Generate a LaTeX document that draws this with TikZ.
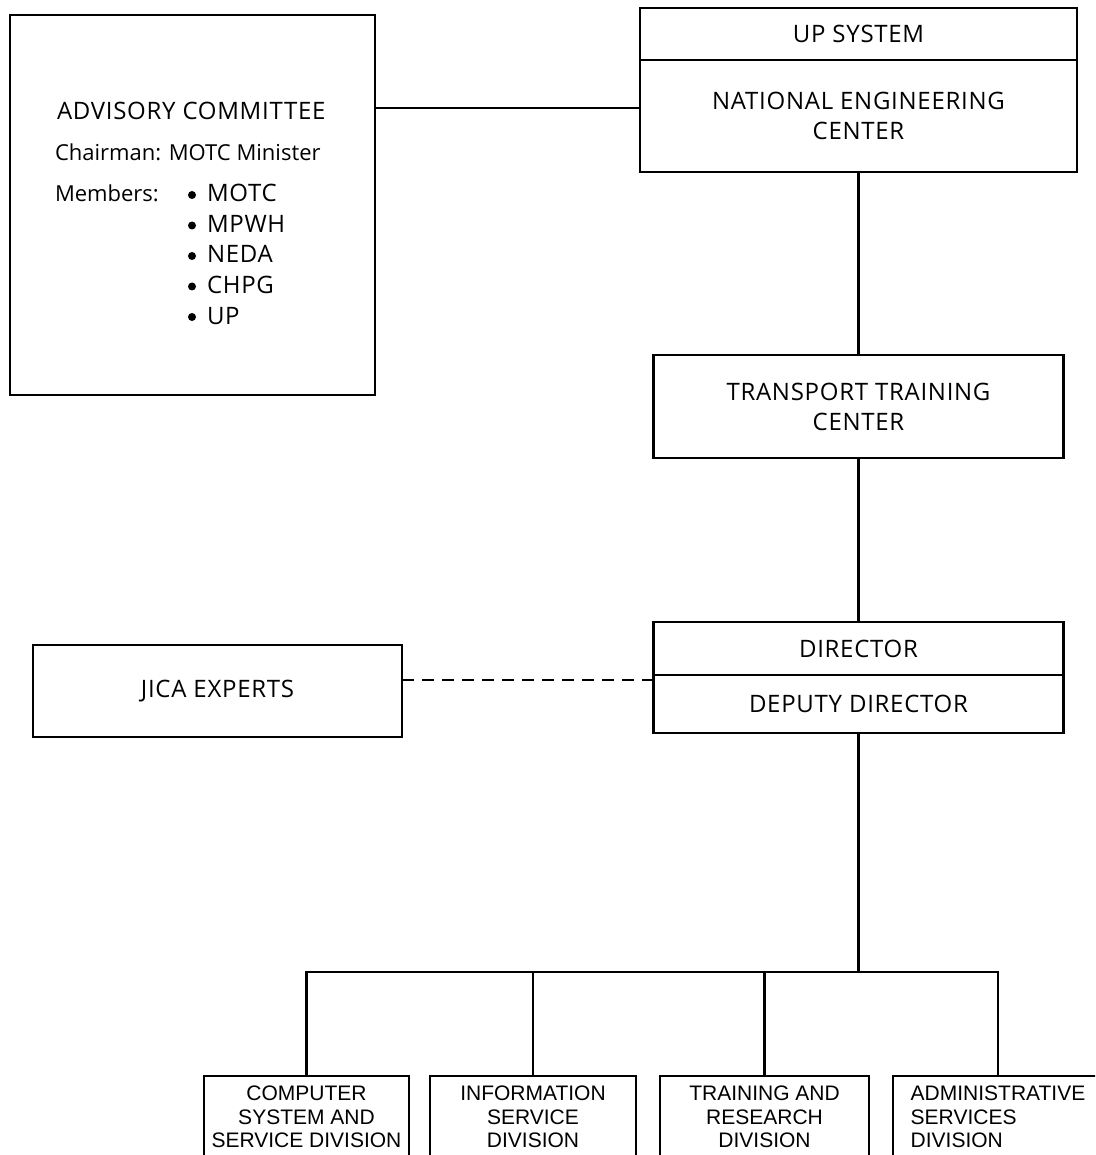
\documentclass[tikz,border=0pt]{standalone}
\usepackage{fontspec}
\setmainfont{Open Sans}[LetterSpace=3]
\newfontfamily\lowfont{Open Sans}
\newfontfamily\divfont{Liberation Sans}
\usetikzlibrary{positioning}

\begin{document}
\begin{tikzpicture}[x=1pt,y=-1pt,line width=2.2pt,
	every node/.style={inner sep=0pt,outer sep=0pt,font=\fontsize{24}{30}\selectfont},
	box/.style={draw,align=center},
	lowtext/.style={anchor=base west,font=\lowfont\fontsize{22}{30}\selectfont},
	divbox/.style={box,anchor=north,minimum height=82pt,font=\divfont\fontsize{21}{23.5}\selectfont}]
	\useasboundingbox (0,0) rectangle (1095,1155);
	\clip (0,0) rectangle (1095,1155);
	\node[box,minimum width=365pt,minimum height=380pt] (adv) at (192.5,205) {};
	\node[anchor=base west] (advtitle) at (57,120) {ADVISORY COMMITTEE};
	\node[lowtext] (chair) at (55,161) {Chairman: MOTC Minister};
	\node[lowtext] (memb) at (55,202) {Members:};
	\foreach \m [count=\i from 0] in {MOTC,MPWH,NEDA,CHPG,UP} {
		\fill (192,195+30.5*\i) circle (4pt);
		\node[anchor=base west] (mem\i) at (207,202+30.5*\i) {\m};
	}
	\node[box,minimum width=437pt,minimum height=52pt] (upsys) at (858.5,34) {UP SYSTEM};
	\node[box,minimum width=437pt,minimum height=112pt,below=0pt of upsys] (nec) {NATIONAL ENGINEERING\\CENTER};
	\node[box,minimum width=410pt,minimum height=103pt] (ttc) at (858.5,406.5) {TRANSPORT TRAINING\\CENTER};
	\node[box,minimum width=410pt,minimum height=53pt] (dir) at (858.5,648.5) {DIRECTOR};
	\node[box,minimum width=410pt,minimum height=58pt,below=0pt of dir] (dep) {DEPUTY DIRECTOR};
	\node[box,minimum width=369pt,minimum height=92pt] (jica) at (217.5,691) {JICA EXPERTS};
	\node[divbox,minimum width=205pt] (csd) at (306.5,1076) {COMPUTER\\SYSTEM AND\\SERVICE DIVISION};
	\node[divbox,minimum width=206pt] (isd) at (533,1076) {INFORMATION\\SERVICE\\DIVISION};
	\node[divbox,minimum width=209pt] (trd) at (764.5,1076) {TRAINING AND\\RESEARCH\\DIVISION};
	\node[divbox,minimum width=210pt,align=left] (asd) at (998,1076) {ADMINISTRATIVE\\SERVICES\\DIVISION};
	\coordinate (bus) at (858.5,972);
	\draw ([yshift=8pt]nec.west) -- ([yshift=8pt]nec.west -| adv.east);
	\draw (nec.south) -- (ttc.north);
	\draw (ttc.south) -- (dir.north);
	\draw[line width=1.6pt,dash pattern=on 12pt off 8pt] ([yshift=-5pt]dep.north west) -- ([yshift=-5pt]dep.north west -| jica.east);
	\draw (dep.south) -- (bus);
	\draw (csd.north) |- (bus) -| (asd.north);
	\foreach \d in {isd,trd}
		\draw (\d.north) -- (\d.north |- bus);
\end{tikzpicture}
\end{document}
